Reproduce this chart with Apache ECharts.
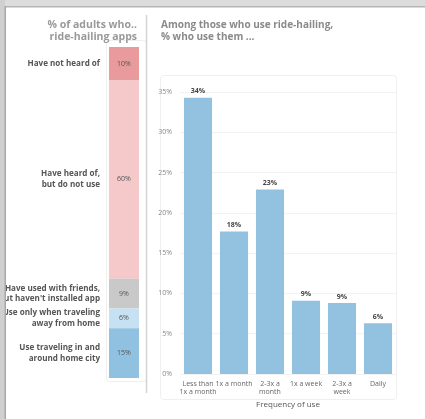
<!DOCTYPE html>
<html>
<head>
<meta charset="utf-8">
<script src="https://cdn.jsdelivr.net/npm/echarts@6/dist/echarts.min.js"></script>
<style>
html,body{margin:0;padding:0;background:#fff;}
#c{width:425px;height:419px;}
</style>
</head>
<body>
<div id="c"></div>
<script>
// ---- data ----
const awarenessCategories = [
  'Have not heard of',
  'Have heard of,\nbut do not use',
  "Have used with friends,\nbut haven't installed app",
  'Use only when traveling\naway from home',
  'Use traveling in and\naround home city'
];
const awarenessValues = [10, 60, 9, 6, 15];
const awarenessColors = ['#e89a9d', '#f5c8ca', '#c9c9c9', '#c6e1f1', '#90c1e1'];

const frequencyCategories = ['Less than\n1x a month', '1x a month', '2-3x a\nmonth', '1x a week', '2-3x a\nweek', 'Daily'];
const frequencyValues = [34.3, 17.7, 22.9, 9.1, 8.8, 6.3];
const frequencyTicks = [0, 5, 10, 15, 20, 25, 30, 35];

const leftTitle = '% of adults who..\nride-hailing apps';
const rightTitle = 'Among those who use ride-hailing,\n% who use them ...';
const xAxisTitle = 'Frequency of use';

// ---- chart ----
const chart = echarts.init(document.getElementById('c'), null, {renderer: 'canvas'});
const FONT = '"Open Sans", Lato, sans-serif';

const series = [];
awarenessValues.forEach((v, i) => {
  series.push({
    type: 'bar', xAxisIndex: 0, yAxisIndex: 0, stack: 'shown',
    data: [v], barWidth: '100%',
    itemStyle: {color: awarenessColors[i]},
    label: {show: true, position: 'inside', formatter: v + '%', fontSize: 7, color: '#555', fontFamily: FONT},
    silent: true
  });
  series.push({
    type: 'bar', xAxisIndex: 1, yAxisIndex: 0, stack: 'names',
    data: [v], barWidth: '100%',
    itemStyle: {color: 'rgba(0,0,0,0)'},
    label: {show: true, position: 'left', distance: 9, formatter: awarenessCategories[i],
      align: 'right', fontSize: 8.1, fontWeight: 'bold', color: '#555', lineHeight: 10.5, fontFamily: FONT},
    silent: true
  });
});
series.push({
  type: 'bar', xAxisIndex: 2, yAxisIndex: 1,
  data: frequencyValues, barCategoryGap: '22%',
  itemStyle: {color: '#93c2e1'},
  label: {show: true, position: 'top', distance: 3, fontSize: 7, fontWeight: 'bold', color: '#444', fontFamily: FONT,
    formatter: p => Math.round(p.value) + '%'},
  silent: true
});

chart.setOption({
  animation: false,
  backgroundColor: '#fff',
  textStyle: {fontFamily: FONT},
  grid: [
    {left: 109, width: 30, top: 47, height: 331},
    {left: 180, right: 29, top: 92, bottom: 45}
  ],
  xAxis: [
    {gridIndex: 0, type: 'category', data: [''], show: false},
    {gridIndex: 0, type: 'category', data: [''], show: false},
    {gridIndex: 1, type: 'category', data: frequencyCategories,
      axisLine: {show: false}, axisTick: {show: false},
      axisLabel: {interval: 0, fontSize: 7, color: '#666', lineHeight: 8, margin: 6, fontFamily: FONT},
      name: xAxisTitle, nameLocation: 'middle', nameGap: 27,
      nameTextStyle: {fontSize: 8, color: '#555', fontFamily: FONT}}
  ],
  yAxis: [
    {gridIndex: 0, type: 'value', min: 0, max: 100, inverse: true, show: false},
    {gridIndex: 1, type: 'value', min: frequencyTicks[0], max: frequencyTicks[frequencyTicks.length - 1], interval: 5,
      axisLine: {show: false}, axisTick: {show: false},
      axisLabel: {formatter: '{value}%', fontSize: 7, color: '#888', margin: 8, fontFamily: FONT},
      splitLine: {lineStyle: {color: '#f2f2f2', width: 1}}}
  ],
  series: series,
  graphic: [
    {type: 'rect', shape: {x: 160.5, y: 75.5, width: 236, height: 324, r: 3}, style: {fill: 'none', stroke: '#efefef', lineWidth: 1}, z: -1, silent: true},
    {type: 'rect', shape: {x: 106.5, y: 40.5, width: 40, height: 341, r: 3}, style: {fill: 'none', stroke: '#efefef', lineWidth: 1}, z: -1, silent: true},
    {type: 'line', shape: {x1: 146.5, y1: 15, x2: 146.5, y2: 393}, style: {stroke: '#d4d4d4', lineWidth: 1.5}, silent: true},
    {type: 'text', x: 137, y: 19, style: {text: leftTitle, align: 'right', fontSize: 10.5, fontWeight: 'bold', fill: '#999', lineHeight: 12, fontFamily: FONT}, silent: true},
    {type: 'text', x: 161, y: 19, style: {text: rightTitle, align: 'left', fontSize: 10, fontWeight: 'bold', fill: '#8a8a8a', lineHeight: 12, fontFamily: FONT}, silent: true},
    {type: 'rect', shape: {x: 0, y: 0, width: 425, height: 6}, style: {fill: '#dcdcdc'}, z: 100, silent: true},
    {type: 'rect', shape: {x: 0, y: 6, width: 425, height: 1.5}, style: {fill: '#b5b5b5'}, z: 100, silent: true},
    {type: 'rect', shape: {x: 0, y: 0, width: 5, height: 419}, style: {fill: '#d0d0d0'}, z: 100, silent: true},
    {type: 'rect', shape: {x: 4.5, y: 6, width: 1.5, height: 413}, style: {fill: '#a8a8a8'}, z: 100, silent: true}
  ]
});
</script>
</body>
</html>
